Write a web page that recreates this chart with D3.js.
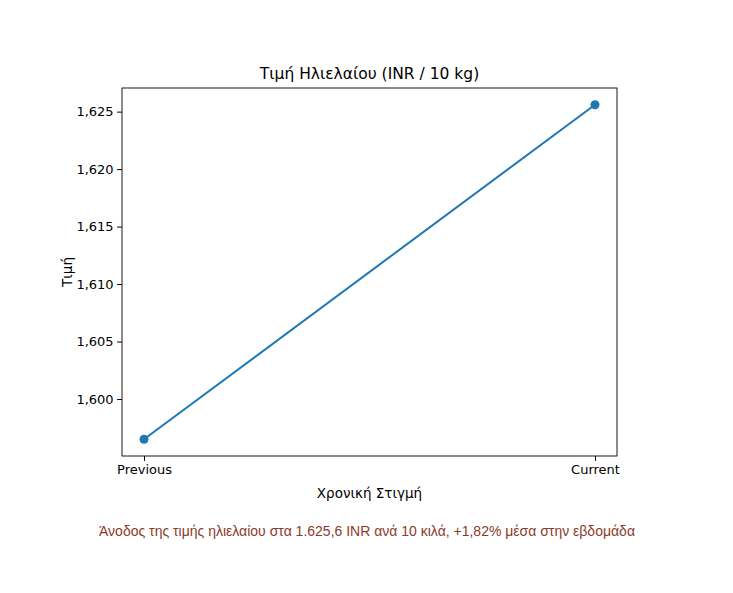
<!DOCTYPE html>
<html><head><meta charset="utf-8">
<script src="https://cdn.jsdelivr.net/npm/d3@7"></script>
<style>body{margin:0;background:#fff}</style>
</head><body><div id="viz"></div>
<script>
const categories = ["Previous", "Current"];
const prices = [1596.5, 1625.6];
const yTicks = [1600, 1605, 1610, 1615, 1620, 1625];

const width = 733, height = 593;
const marginLeft = 122, marginRight = 617, marginTop = 88, marginBottom = 456;

const x = d3.scalePoint().domain(categories).range([144, 595]);
const pad = (prices[1] - prices[0]) * 0.05;
const y = d3.scaleLinear().domain([prices[0] - pad, prices[1] + pad]).range([marginBottom, marginTop]);

const svg = d3.select("#viz").append("svg").attr("width", width).attr("height", height)
  .style("font-family", "DejaVu Sans");

const xa = svg.append("g").attr("transform", `translate(0,${marginBottom})`)
  .call(d3.axisBottom(x).tickSizeOuter(0).tickSize(4.9).tickPadding(3.5));
const ya = svg.append("g").attr("transform", `translate(${marginLeft},0)`)
  .call(d3.axisLeft(y).tickValues(yTicks).tickSizeOuter(0).tickSize(4.9).tickPadding(3.5));
[xa, ya].forEach(g => { g.selectAll("text").attr("font-size", 13).attr("font-family", "DejaVu Sans").attr("fill", "#000"); g.select(".domain").remove(); });

svg.append("rect").attr("x", marginLeft).attr("y", marginTop).attr("width", marginRight - marginLeft).attr("height", marginBottom - marginTop)
  .attr("fill", "none").attr("stroke", "#000").attr("stroke-width", 0.9);

const line = d3.line().x((d, i) => x(categories[i])).y(d => y(d));
svg.append("path").datum(prices).attr("d", line).attr("fill", "none").attr("stroke", "#1f77b4").attr("stroke-width", 2);
svg.selectAll("circle.pt").data(prices).join("circle").attr("class", "pt")
  .attr("cx", (d, i) => x(categories[i])).attr("cy", d => y(d)).attr("r", 4.5).attr("fill", "#1f77b4");

svg.append("text").attr("x", (marginLeft + marginRight) / 2).attr("y", marginTop - 9).attr("text-anchor", "middle")
  .attr("font-size", 15.5).text("Τιμή Ηλιελαίου (INR / 10 kg)");
svg.append("text").attr("x", (marginLeft + marginRight) / 2).attr("y", 498).attr("text-anchor", "middle")
  .attr("font-size", 13.5).text("Χρονική Στιγμή");
svg.append("text").attr("transform", `translate(72,${(marginTop + marginBottom) / 2}) rotate(-90)`).attr("text-anchor", "middle")
  .attr("font-size", 13.5).text("Τιμή");
svg.append("text").attr("x", 367).attr("y", 536).attr("text-anchor", "middle")
  .attr("font-family", "Liberation Sans").attr("font-size", 14).attr("fill", "#8b3a2a")
  .text("Άνοδος της τιμής ηλιελαίου στα 1.625,6 INR ανά 10 κιλά, +1,82% μέσα στην εβδομάδα");
</script></body></html>
